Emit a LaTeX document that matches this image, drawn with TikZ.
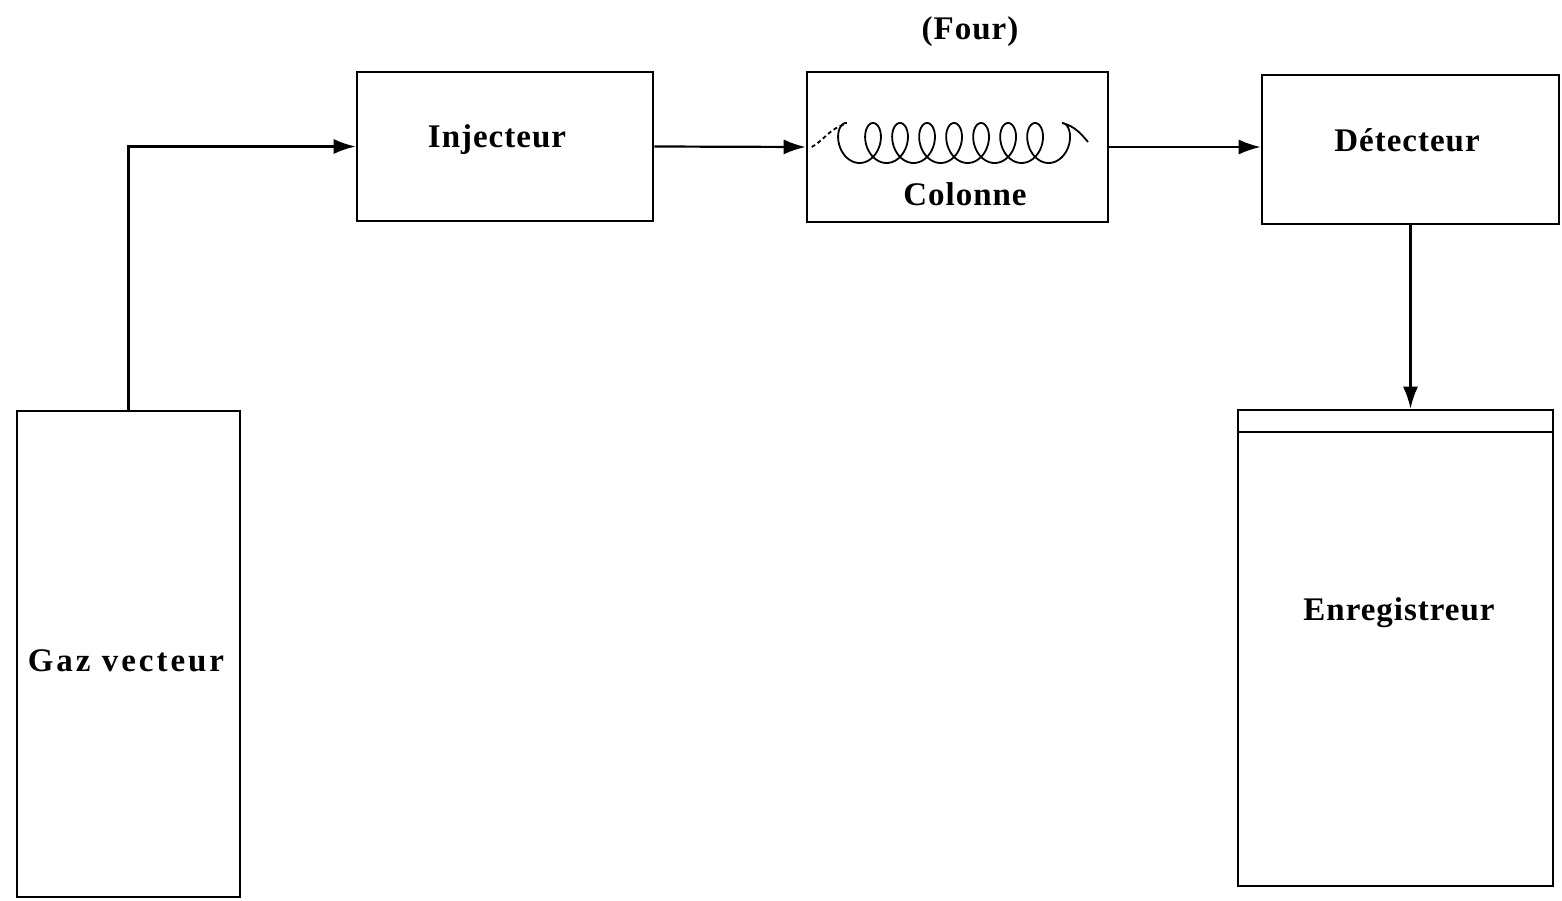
\documentclass[tikz,border=0pt]{standalone}
\usepackage{fontspec}
\setmainfont{Liberation Serif}[LetterSpace=3]
\usetikzlibrary{arrows.meta}
\begin{document}
\begin{tikzpicture}[x=1pt,y=-1pt,
  boxed/.style={draw=black,line width=2.6pt,inner sep=0pt},
  lbl/.style={font=\fontsize{33}{36}\selectfont\bfseries,anchor=base,inner sep=0pt},
  flow/.style={line width=2.2pt,-{Latex[length=22pt,width=15pt]}}]
\useasboundingbox (0,0) rectangle (1562,901);
% boxes
\node[boxed,minimum width=223pt,minimum height=486pt] (gaz) at (128.5,654) {};
\node[boxed,minimum width=296pt,minimum height=149pt] (inj) at (505,146.5) {};
\node[boxed,minimum width=301pt,minimum height=150pt] (col) at (957.5,147) {};
\node[boxed,minimum width=297pt,minimum height=149pt] (det) at (1410.5,149.5) {};
\node[boxed,minimum width=315pt,minimum height=476pt] (enr) at (1395.5,648) {};
\coordinate (enrL) at (1238,432);
\coordinate (enrR) at (1553,432);
\draw[line width=2.2pt] (enrL) -- (enrR);
% texts
\node[lbl] (tfour) at (970,40) {(Four)};
\node[lbl] (tinj) at (497,148) {Injecteur};
\node[lbl] (tcol) at (965,206) {Colonne};
\node[lbl] (tdet) at (1407,152) {Détecteur};
\node[lbl,font=\fontsize{33}{36}\selectfont\bfseries\addfontfeature{LetterSpace=9}] (tgaz) at (126,671) {Gaz vecteur};
\node[lbl] (tenr) at (1399,620) {Enregistreur};
% coil
\draw[line width=1.8pt,dash pattern=on 4pt off 3pt] (col.west) ++(6,0) .. controls (822,142) and (830,128) .. (846,124);
\draw[line width=1.8pt] (846,124)
  -- plot[domain=180:3060,samples=500,variable=\t]
  ({846+0.07505*(\t-180)+14*sin(\t)},{143+20*cos(\t)}) .. controls (1075,126) and (1082,135) .. (1088,142);
% connectors
\coordinate (corner) at (gaz.north |- inj.west);
\draw[flow] (gaz.north) -- (corner) -- (inj.west);
\draw[flow] (inj.east) -- (col.west);
\draw[flow] (col.east) -- (col.east -| det.west);
\draw[flow] (det.south) -- (det.south |- enr.north);
\end{tikzpicture}
\end{document}
